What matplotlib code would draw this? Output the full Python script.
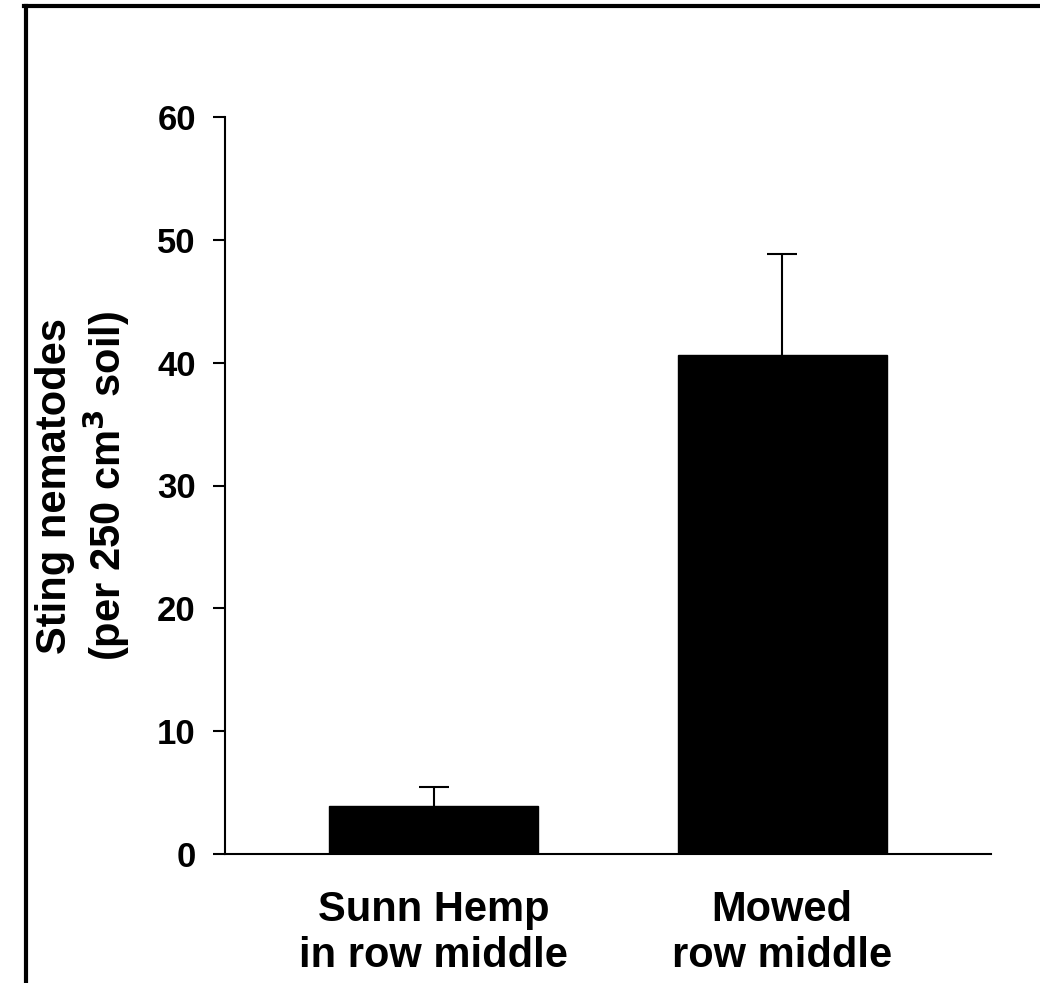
import matplotlib
matplotlib.use('Agg')
import matplotlib.pyplot as plt
from matplotlib.lines import Line2D

plt.rcParams['font.family'] = ['Liberation Sans', 'DejaVu Sans']

categories = ['Sunn Hemp\nin row middle', 'Mowed\nrow middle']
means = [3.9, 40.6]
errors = [1.55, 8.25]
y_ticks = [0, 10, 20, 30, 40, 50, 60]

fig = plt.figure(figsize=(10.4, 9.83), dpi=100)
ax = fig.add_axes([225 / 1040, 1 - 854 / 983, (991 - 225) / 1040, (854 - 117) / 983])

x = list(range(len(categories)))
ax.bar(x, means, width=0.6, color='black', edgecolor='black', zorder=3)
eb = ax.errorbar(x, means, yerr=[[0] * len(errors), errors], fmt='none',
                 ecolor='black', elinewidth=1.5, capsize=11, capthick=1.5, zorder=2)
eb[1][0].set_visible(False)

ax.set_xlim(-0.6, 1.6)
ax.set_ylim(0, 60)
ax.set_yticks(y_ticks)
ax.set_yticklabels([str(t) for t in y_ticks], fontsize=25, fontweight='bold')
ax.set_xticks(x)
ax.set_xticklabels(categories, fontsize=30, fontweight='bold', linespacing=1.2)
ax.tick_params(axis='x', length=0, pad=26)
ax.tick_params(axis='y', direction='out', length=9, width=1.5, pad=12)

ax.spines['top'].set_visible(False)
ax.spines['right'].set_visible(False)
ax.spines['left'].set_linewidth(1.5)
ax.spines['bottom'].set_linewidth(1.5)

ax.set_ylabel('Sting nematodes\n(per 250 cm$^\\mathbf{3}$ soil)', fontsize=30,
              fontweight='bold', labelpad=18, linespacing=1.15)

# outer frame (only left and top edges visible)
fig.add_artist(Line2D([25.5 / 1040, 25.5 / 1040], [0, 1 - 6 / 983],
                      color='black', lw=3, transform=fig.transFigure))
fig.add_artist(Line2D([24 / 1040, 1], [1 - 6 / 983, 1 - 6 / 983],
                      color='black', lw=3, transform=fig.transFigure))

plt.savefig('out.png', dpi=100)
